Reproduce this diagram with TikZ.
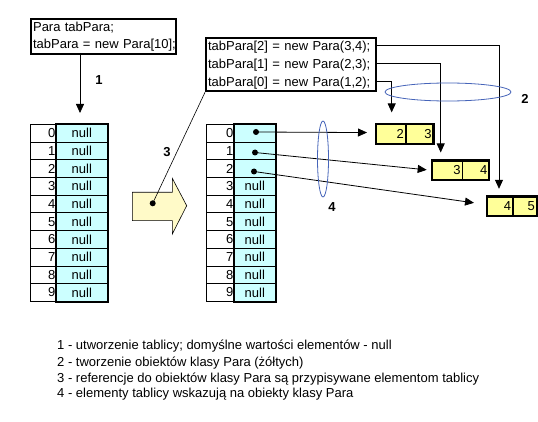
\documentclass[tikz,border=0pt]{standalone}
\usepackage{fontspec}
\setmainfont{Liberation Sans}
\usetikzlibrary{arrows.meta,calc}
\definecolor{cellcyan}{RGB}{204,255,255}
\definecolor{objyellow}{RGB}{255,255,153}
\definecolor{arrowyellow}{RGB}{255,250,200}
\definecolor{ringblue}{RGB}{70,100,185}
\begin{document}
\begin{tikzpicture}[x=1pt,y=-1pt,
  font=\fontsize{13}{15}\selectfont,
  tip/.style={line width=0.8pt,-{Triangle[width=8pt,length=9pt]}},
  thin/.style={line width=0.7pt},
  thickb/.style={line width=2.2pt},
  idx/.style={draw,thin,fill=white,inner sep=1pt,align=right,minimum height=17.7pt,anchor=north west},
  val/.style={draw,thin,fill=cellcyan,inner sep=0pt,minimum height=17.7pt,anchor=north west},
  obj/.style={draw,thin,fill=objyellow,inner sep=1.5pt,align=right,minimum height=19pt,anchor=north west},
  codebox/.style={draw,thickb,fill=white,inner xsep=2pt,inner ysep=2.5pt,align=left,anchor=north west},
  lbl/.style={font=\fontsize{13}{15}\selectfont\bfseries},
  ring/.style={draw=ringblue,line width=0.8pt},
  dot/.style={circle,fill=black,inner sep=0pt,minimum size=6pt}
]
\useasboundingbox (0,0) rectangle (538,422);
\fill[white] (0,0) rectangle (538,422);

% code box 1
\node[codebox,text width=141pt,minimum height=35pt,font=\fontsize{13}{17}\selectfont] (box1) at (30,18)
  {\mbox{Para tabPara;}\\\mbox{tabPara = new Para[10];}};

% left array
\foreach \i in {0,...,9}{
  \node[idx,text width=24pt] (L\i) at (30,124+17.7*\i) {\i};
  \node[val,minimum width=51pt] (LV\i) at (56,124+17.7*\i) {null};
}
\draw[thickb] (LV0.north west) rectangle (LV9.south east);

% right array
\foreach \i in {0,...,9}{
  \node[idx,text width=26pt] (R\i) at (206,124+17.7*\i) {\i};
}
\node[val,minimum width=41pt] (RV0) at (234,124) {};
\node[val,minimum width=41pt] (RV1) at (234,141.7) {};
\node[val,minimum width=41pt] (RV2) at (234,159.4) {};
\foreach \i in {3,...,9}{
  \node[val,minimum width=41pt] (RV\i) at (234,124+17.7*\i) {null};
}
\draw[thickb] (RV0.north west) rectangle (RV9.south east);
\node[dot] (d0) at (256,132) {};
\node[dot] (d1) at (255,152.5) {};
\node[dot] (d2) at (254,171.5) {};

% arrow 1
\coordinate (a1s) at (80,53);
\coordinate (a1e) at (80,113);
\draw[tip] (a1s) -- (a1e);
\node[lbl] (n1) at (99,80) {1};

% big yellow arrow
\filldraw[fill=arrowyellow,draw=black,line width=0.6pt]
  (132.3,192.3) -- (172.3,192.3) -- (172.3,178.3) -- (186.7,205.7)
  -- (172.3,234) -- (172.3,220.7) -- (132.3,220.7) -- cycle;
\node[dot] (bd) at (152.7,203.3) {};

% code box 2
\node[codebox,text width=166pt,minimum height=52pt,font=\fontsize{13}{18}\selectfont] (box2) at (205,37)
  {\mbox{tabPara[2] = new Para(3,4);}\\\mbox{tabPara[1] = new Para(2,3);}\\\mbox{tabPara[0] = new Para(1,2);}};

\draw[line width=0.6pt] (bd.center) -- (box2.south west);
\node[lbl] (n3) at (167,152) {3};

% objects
\node[obj,text width=26pt] (o23a) at (376,124) {2};
\node[obj,text width=24pt] (o23b) at (o23a.north east) {3};
\draw[thickb] (o23a.north west) rectangle (o23b.south east);
\node[obj,text width=27pt] (o34a) at (431.7,160.5) {3};
\node[obj,text width=23pt] (o34b) at (o34a.north east) {4};
\draw[thickb] (o34a.north west) rectangle (o34b.south east);
\node[obj,text width=22.5pt] (o45a) at (486.7,196.5) {4};
\node[obj,text width=20pt] (o45b) at (o45a.north east) {5};
\draw[thickb] (o45a.north west) rectangle (o45b.south east);

% connectors from box 2
\draw[tip] ($(box2.north east)+(0,8)$) -| ($(o45a.north west)+(12.3,-7.7)$);
\draw[tip] ($(box2.north east)+(0,26)$) -| ($(o34a.north west)+(9,-8)$);
\draw[tip] ($(box2.north east)+(0,44)$) -| ($(o23a.north west)+(15.7,-11.6)$);

% pointers
\draw[tip] (d0.center) -- ($(o23a.west)+(-9,-1.3)$);
\draw[tip] (d1.center) -- ($(o34a.west)+(-5,-0.5)$);
\draw[tip] (d2.center) -- ($(o45a.west)+(-12.7,-3.5)$);

% rings
\draw[ring] (448,92) ellipse [x radius=63, y radius=9];
\node[lbl] (n2) at (525,99) {2};
\draw[ring] (323,159) ellipse [x radius=5.5, y radius=38];
\node[lbl] (n4) at (332,207) {4};

% legend
\node[anchor=base west,inner sep=0pt] (leg1) at (57,349.5) {1 - utworzenie tablicy; domyślne wartości elementów - null};
\node[anchor=base west,inner sep=0pt] (leg2) at (57,366) {2 - tworzenie obiektów klasy Para (żółtych)};
\node[anchor=base west,inner sep=0pt] (leg3) at (57,382) {3 - referencje do obiektów klasy Para są przypisywane elementom tablicy};
\node[anchor=base west,inner sep=0pt] (leg4) at (57,397.5) {4 - elementy tablicy wskazują na obiekty klasy Para};
\end{tikzpicture}
\end{document}
